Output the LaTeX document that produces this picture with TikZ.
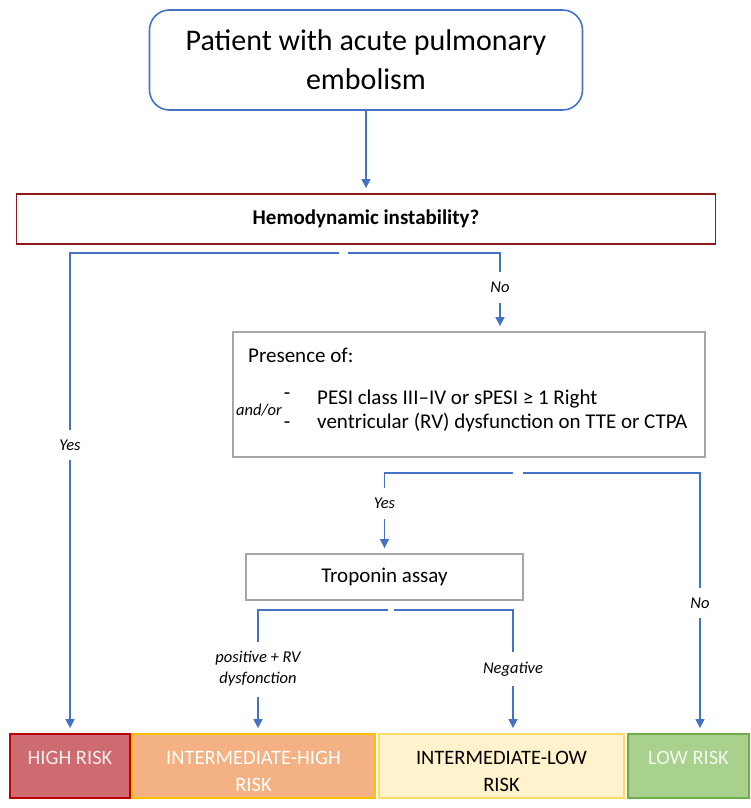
\documentclass[tikz,border=0pt]{standalone}
\usepackage{fontspec}
\setmainfont{Carlito}
\usepackage{xcolor}
\usetikzlibrary{arrows.meta,positioning}
\definecolor{linkblue}{HTML}{4472C4}
\definecolor{hemored}{HTML}{8E1B1B}
\definecolor{boxgray}{HTML}{A6A6A6}
\definecolor{highfill}{HTML}{CD6B70}
\definecolor{highdraw}{HTML}{C00000}
\definecolor{ihighfill}{HTML}{F4B183}
\definecolor{ihighdraw}{HTML}{FFC000}
\definecolor{ilowfill}{HTML}{FFF2CC}
\definecolor{ilowdraw}{HTML}{FFD966}
\definecolor{lowfill}{HTML}{A9D18E}
\definecolor{lowdraw}{HTML}{70AD47}
\newcommand{\fsz}[2]{\fontsize{#1}{#2}\selectfont}

\begin{document}
\begin{tikzpicture}[x=1pt, y=-1pt,
    start/.style={rectangle, rounded corners=20pt, draw=linkblue, line width=1.6pt, align=center, minimum width=433pt, minimum height=100pt, font=\fsz{30}{39}},
    question/.style={rectangle, draw=hemored, line width=1.8pt, minimum width=699pt, minimum height=50pt, font=\bfseries\fsz{21}{24}},
    plain/.style={rectangle, draw=boxgray, line width=1.8pt, align=center, font=\fsz{21}{24}},
    risk/.style={rectangle, line width=1.8pt, align=center, minimum height=64pt, inner sep=0pt, text height=51pt, font=\fsz{20.5}{27}},
    txt/.style={inner sep=0pt, font=\fsz{21}{24}},
    lbl/.style={fill=white, inner xsep=2pt, inner ysep=10pt, align=center, font=\itshape\fsz{16.5}{21}},
    arrow/.style={-{Triangle[width=9pt,length=9pt]}, line width=1.3pt, draw=linkblue, shorten >=5pt}
]
\fill[white] (0,0) rectangle (750,808);
\useasboundingbox (0,0) rectangle (750,808);

\node[start] (patient) at (366,60) {Patient with acute pulmonary\\embolism};
\node[question] (hemo) at (366,219) {Hemodynamic instability?};
\node[plain, minimum width=472pt, minimum height=125pt] (presence) at (469,394.5) {};
\node[txt, anchor=west] (preshead) at (248,355) {Presence of:};
\node[txt] (dashone) at (287,396) {-};
\node[txt, font=\itshape\fsz{16.5}{20}] (andor) at (259,410) {and/or};
\node[txt] (dashtwo) at (287,425) {-};
\node[txt, anchor=base west] (itemone) at (317,404) {PESI class III–IV or sPESI ≥ 1 Right};
\node[txt, anchor=base west] (itemtwo) at (317,428) {ventricular (RV) dysfunction on TTE or CTPA};
\node[plain, minimum width=277pt, minimum height=46pt] (tropo) at (384.5,577) {Troponin assay};

\node[risk, fill=highfill, draw=highdraw, minimum width=120pt, text=highfill!12] (high) at (70,766) {HIGH RISK\\\phantom{R}};
\node[risk, fill=ihighfill, draw=ihighdraw, minimum width=243pt, text=white] (ihigh) at (253.5,766) {INTERMEDIATE-HIGH\\RISK};
\node[risk, fill=ilowfill, draw=ilowdraw, minimum width=245pt, text=black] (ilow) at (501.5,766) {INTERMEDIATE-LOW\\RISK};
\node[risk, fill=lowfill, draw=lowdraw, minimum width=121pt, text=lowfill!15] (low) at (688.5,766) {LOW RISK\\\phantom{R}};

\coordinate (yesfork) at (339,253);
\coordinate (nofork) at (348,253);
\coordinate (presyes) at (513,473);
\coordinate (presno) at (523,473);
\coordinate (tropopos) at (388,610);
\coordinate (troponeg) at (394,610);

\draw[arrow] (patient) -- (hemo);
\draw[arrow] (yesfork) -| node[lbl, pos=0.7] {Yes} (high);
\draw[arrow] (nofork) -| node[lbl, pos=0.72] {No} ([xshift=31pt]presence.north);
\draw[arrow] (presyes) -| node[lbl, pos=0.69] {Yes} (tropo);
\draw[arrow] (presno) -| node[lbl, pos=0.75] {No} ([xshift=11.5pt]low.north);
\draw[arrow] (tropopos) -| node[lbl, pos=0.74] {positive + RV\\dysfonction} ([xshift=4.5pt]ihigh.north);
\draw[arrow] (troponeg) -| node[lbl, pos=0.74] {Negative} ([xshift=11.5pt]ilow.north);
\end{tikzpicture}
\end{document}
